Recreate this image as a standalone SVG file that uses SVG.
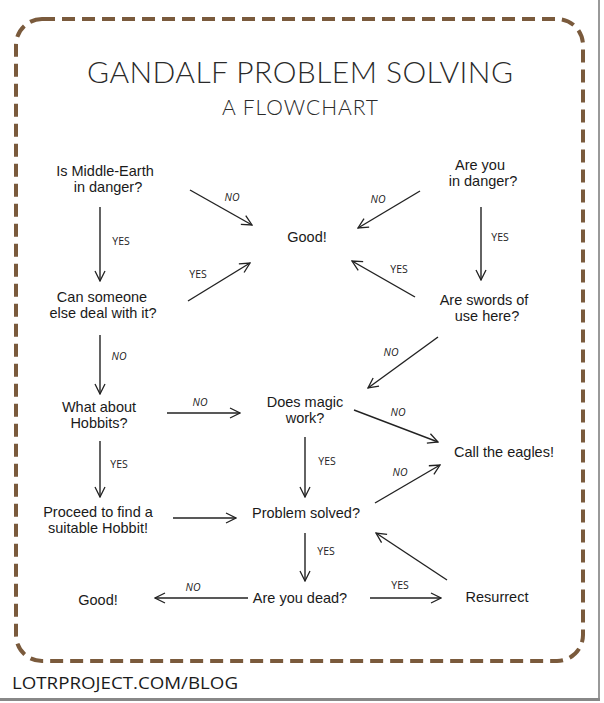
<svg xmlns="http://www.w3.org/2000/svg" width="604" height="703" viewBox="0 0 604 703">
<defs>
<marker id="arr" viewBox="0 0 12 12" refX="11" refY="6" markerWidth="12" markerHeight="12" markerUnits="userSpaceOnUse" orient="auto">
<path d="M1,1 L11,6 L1,11" fill="none" stroke="#222" stroke-width="1.3"/>
</marker>
</defs>
<style>
.t{font-family:"Liberation Sans",Arial,sans-serif;font-size:14.5px;fill:#1a1a1a;text-anchor:middle}
.l{font-family:"Open Sans","DejaVu Sans",sans-serif;font-size:10.5px;fill:#222;text-anchor:middle}
.c line{stroke:#222;stroke-width:1.4;marker-end:url(#arr)}
.h{font-family:Lato,"Open Sans",sans-serif;font-weight:300;fill:#2a2a2a;text-anchor:middle}
</style>
<rect width="604" height="703" fill="#fff"/>
<line x1="599" y1="0" x2="599" y2="700" stroke="#999" stroke-width="2"/>
<line x1="0" y1="699.5" x2="600" y2="699.5" stroke="#888" stroke-width="3"/>
<rect x="16" y="19" width="567" height="642" rx="26" fill="none" stroke="#7a5a3c" stroke-width="4" stroke-dasharray="13 7"/>
<g id="title">
<text class="h" x="300" y="83" font-size="30" textLength="426" lengthAdjust="spacing">GANDALF PROBLEM SOLVING</text>
<text class="h" x="300" y="115" font-size="21" textLength="156" lengthAdjust="spacing">A FLOWCHART</text>
</g>
<g id="n-middle-earth"><text class="t" x="105" y="176">Is Middle-Earth</text><text class="t" x="108" y="192">in danger?</text></g>
<g id="n-good-top"><text class="t" x="307" y="242">Good!</text></g>
<g id="n-someone"><text class="t" x="102" y="302">Can someone</text><text class="t" x="103" y="318">else deal with it?</text></g>
<g id="n-hobbits"><text class="t" x="99" y="412">What about</text><text class="t" x="99" y="428">Hobbits?</text></g>
<g id="n-proceed"><text class="t" x="98" y="517">Proceed to find a</text><text class="t" x="98" y="533">suitable Hobbit!</text></g>
<g id="n-you-danger"><text class="t" x="480" y="170">Are you</text><text class="t" x="483" y="186">in danger?</text></g>
<g id="n-swords"><text class="t" x="484" y="305">Are swords of</text><text class="t" x="487" y="321">use here?</text></g>
<g id="n-magic"><text class="t" x="305" y="407">Does magic</text><text class="t" x="305" y="423">work?</text></g>
<g id="n-eagles"><text class="t" x="504" y="457">Call the eagles!</text></g>
<g id="n-solved"><text class="t" x="306" y="518">Problem solved?</text></g>
<g id="n-dead"><text class="t" x="300" y="603">Are you dead?</text></g>
<g id="n-good-bottom"><text class="t" x="98" y="605">Good!</text></g>
<g id="n-resurrect"><text class="t" x="497" y="602">Resurrect</text></g>
<g id="connectors" class="c">
<line x1="100" y1="207" x2="100" y2="281"/>
<line x1="190" y1="190" x2="252" y2="225"/>
<line x1="188" y1="301" x2="250" y2="263"/>
<line x1="100" y1="335" x2="100" y2="394"/>
<line x1="167" y1="413" x2="240" y2="413"/>
<line x1="100" y1="441" x2="100" y2="497"/>
<line x1="173" y1="518" x2="236" y2="518"/>
<line x1="420" y1="191" x2="358" y2="228"/>
<line x1="481" y1="207" x2="481" y2="280"/>
<line x1="415" y1="297" x2="352" y2="261"/>
<line x1="438" y1="337" x2="368" y2="388"/>
<line x1="305" y1="437" x2="305" y2="497"/>
<line x1="354" y1="410" x2="438" y2="442"/>
<line x1="375" y1="503" x2="440" y2="465"/>
<line x1="305" y1="533" x2="305" y2="581"/>
<line x1="248" y1="598" x2="155" y2="598"/>
<line x1="370" y1="598" x2="441" y2="598"/>
<line x1="447" y1="580" x2="376" y2="533"/>
</g>
<g id="labels">
<text class="l" x="121" y="245">YES</text>
<text class="l" x="232" y="201" font-style="italic">NO</text>
<text class="l" x="198" y="278">YES</text>
<text class="l" x="119" y="360" font-style="italic">NO</text>
<text class="l" x="200" y="406" font-style="italic">NO</text>
<text class="l" x="119" y="468">YES</text>
<text class="l" x="378" y="203" font-style="italic">NO</text>
<text class="l" x="500" y="241">YES</text>
<text class="l" x="399" y="273">YES</text>
<text class="l" x="391" y="356" font-style="italic">NO</text>
<text class="l" x="398" y="416" font-style="italic">NO</text>
<text class="l" x="327" y="465">YES</text>
<text class="l" x="400" y="476" font-style="italic">NO</text>
<text class="l" x="326" y="555">YES</text>
<text class="l" x="193" y="591" font-style="italic">NO</text>
<text class="l" x="400" y="589">YES</text>
</g>
<text x="12" y="689" font-family="'Open Sans','DejaVu Sans',sans-serif" font-size="16" fill="#1a1a1a" textLength="226" lengthAdjust="spacingAndGlyphs">LOTRPROJECT.COM/BLOG</text>
</svg>
